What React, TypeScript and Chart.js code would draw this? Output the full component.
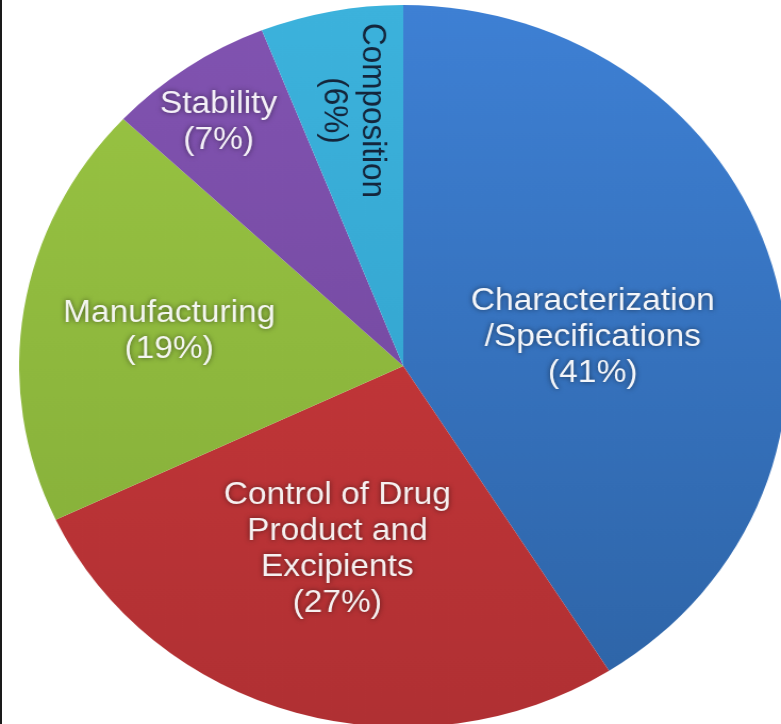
import React, { useEffect, useRef } from "react";
import { Chart, registerables } from "chart.js";

Chart.register(...registerables);

const categories = [
  "Characterization\n/Specifications",
  "Control of Drug\nProduct and\nExcipients",
  "Manufacturing",
  "Stability",
  "Composition",
];
const values = [41, 27, 19, 7, 6];
const topColors = ["#3e80d4", "#cf3a3c", "#9ac543", "#8153b1", "#3cb2dc"];
const bottomColors = ["#2d63a5", "#b03033", "#82ab38", "#6e4598", "#2f9ec8"];
// label placement: fraction of radius, angle shift (deg), rotation (deg), text colour
const labelRadius = [0.5, 0.535, 0.617, 0.828, 0.72];
const labelShift = [6.9, 2.5, 0, -1.3, 0.3];
const labelRotation = [0, 0, 0, 0, 90];
const labelColors = ["#f4f6fa", "#f6f0f0", "#f4f6f0", "#f4f0f8", "#14263c"];

const STRETCH = 1.064;

export default function App() {
  const ref = useRef<HTMLCanvasElement | null>(null);

  useEffect(() => {
    if (!ref.current) return;
    const labelPlugin = {
      id: "sliceLabels",
      afterDatasetsDraw(chart: any) {
        const ctx = chart.ctx;
        const meta = chart.getDatasetMeta(0);
        meta.data.forEach((arc: any, i: number) => {
          const p = arc.getProps(["x", "y", "startAngle", "endAngle", "outerRadius"], true);
          const mid = (p.startAngle + p.endAngle) / 2 + (labelShift[i] * Math.PI) / 180;
          const r = p.outerRadius * labelRadius[i];
          const cx = p.x + Math.cos(mid) * r;
          const cy = p.y + Math.sin(mid) * r;
          const lines = [...categories[i].split("\n"), `(${values[i]}%)`];
          const lh = 36;
          ctx.save();
          ctx.translate(cx, cy);
          ctx.rotate((labelRotation[i] * Math.PI) / 180);
          ctx.font = "31.5px 'Liberation Sans', Arial, sans-serif";
          ctx.textAlign = "center";
          ctx.textBaseline = "middle";
          ctx.fillStyle = labelColors[i];
          if (labelRotation[i] === 0) {
            ctx.shadowColor = "rgba(0,0,0,0.55)";
            ctx.shadowBlur = 5;
          }
          lines.forEach((ln, k) => {
            ctx.fillText(ln, 0, (k - (lines.length - 1) / 2) * lh);
          });
          ctx.restore();
        });
      },
    };

    const chart = new Chart(ref.current, {
      type: "pie",
      data: {
        labels: categories.map((c) => c.replace(/\n/g, " ")),
        datasets: [
          {
            data: values,
            borderWidth: 0,
            backgroundColor: (c: any) => {
              const area = c.chart.chartArea;
              const i = c.dataIndex;
              if (!area || i === undefined) return topColors[i ?? 0];
              const g = c.chart.ctx.createLinearGradient(0, area.top, 0, area.bottom);
              g.addColorStop(0, topColors[i]);
              g.addColorStop(1, bottomColors[i]);
              return g;
            },
          },
        ],
      },
      options: {
        animation: false,
        responsive: true,
        maintainAspectRatio: false,
        layout: { padding: 0 },
        plugins: {
          legend: { display: false },
          tooltip: { enabled: false },
        },
      },
      plugins: [labelPlugin],
    });
    return () => chart.destroy();
  }, []);

  const innerW = 781 / STRETCH;
  const radius = 361;
  const centerX = 403 / STRETCH;
  const centerY = 366;

  return (
    <div
      style={{
        position: "fixed",
        left: 0,
        top: 0,
        width: 781,
        height: 724,
        overflow: "hidden",
        background: "#ffffff",
      }}
    >
      <div
        style={{
          position: "absolute",
          left: 0,
          top: 0,
          width: innerW,
          height: 740,
          transform: `scaleX(${STRETCH})`,
          transformOrigin: "0 0",
        }}
      >
        <div
          style={{
            position: "absolute",
            left: centerX - radius,
            top: centerY - radius,
            width: radius * 2,
            height: radius * 2,
          }}
        >
          <canvas ref={ref} />
        </div>
      </div>
      <div
        style={{
          position: "absolute",
          left: 0,
          top: 0,
          width: 2,
          height: 724,
          background: "#1a1a1a",
        }}
      />
    </div>
  );
}
